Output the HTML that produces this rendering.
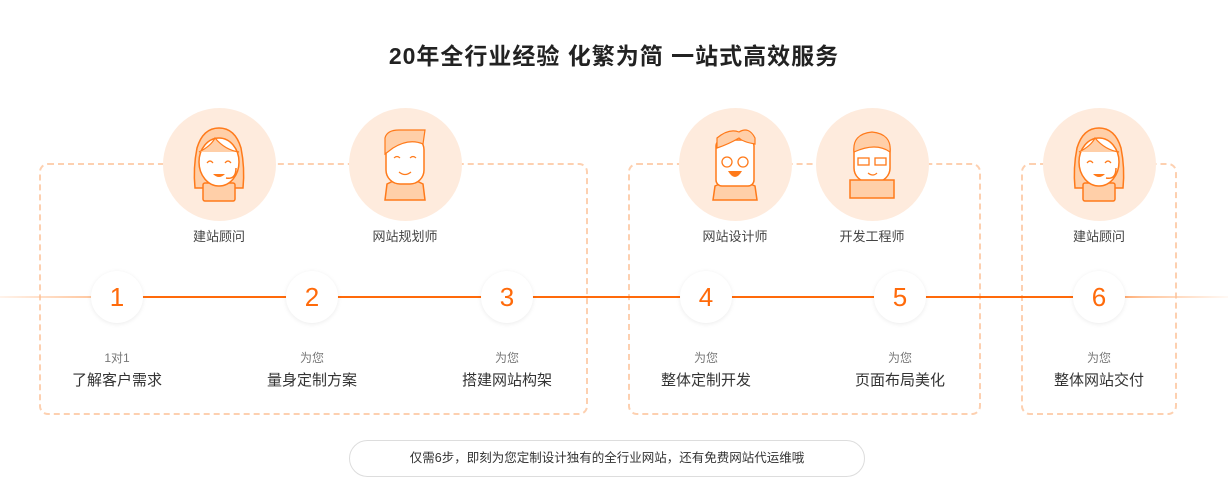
<!DOCTYPE html>
<html><head><meta charset="utf-8"><style>
*{margin:0;padding:0;box-sizing:border-box}
body{width:1228px;height:497px;background:#fff;position:relative;overflow:hidden;font-family:"Liberation Sans","Noto Sans CJK SC",sans-serif;color:#333}
.a{position:absolute}
.title{left:0;width:1228px;top:37px;text-align:center;font-size:23px;font-weight:bold;color:#222;letter-spacing:1px}
.box{border:2px dashed #fdd0b0;border-radius:9px}
.av{width:113px;height:113px;border-radius:50%;background:#feebdd}
.role{font-size:13px;color:#444;width:140px;text-align:center}
.num{width:52px;height:52px;border-radius:50%;background:#fff;box-shadow:0 1px 5px rgba(0,0,0,.08);color:#ff6a0a;font-size:26px;font-weight:300;text-align:center;line-height:52px}
.sub{font-size:12px;color:#777;width:160px;text-align:center}
.main{font-size:15px;color:#333;width:160px;text-align:center}
.pill{left:349px;top:440px;width:516px;height:37px;border:1px solid #ddd;border-radius:19px;text-align:center;line-height:35px;font-size:12.5px;color:#333}
</style></head><body>
<div class="a title">20年全行业经验 化繁为简 一站式高效服务</div>

<div class="a box" style="left:39px;top:163px;width:549px;height:252px"></div>
<div class="a box" style="left:628px;top:163px;width:353px;height:252px"></div>
<div class="a box" style="left:1021px;top:163px;width:156px;height:252px"></div>

<div class="a" style="left:0;top:296px;width:1228px;height:2px;background:linear-gradient(90deg,rgba(255,140,60,0.1) 0%,#ffc49a 8%,#ff6a0a 12%,#ff6a0a 88%,#ffc49a 93%,rgba(255,140,60,0.05) 100%)"></div>

<svg width="0" height="0" style="position:absolute"><defs>
<g id="girl">
<path d="M32 80 Q30 60 34 40 Q40 20 56 20 Q72 20 78 40 Q82 60 80 80 Z" fill="#ffcfa8" stroke="#ff7a1a" stroke-width="1.5"/>
<rect x="40" y="75" width="32" height="18" rx="2" fill="#ffcfa8" stroke="#ff7a1a" stroke-width="1.5"/>
<ellipse cx="56" cy="54" rx="20" ry="24" fill="#fff" stroke="#ff7a1a" stroke-width="1.5"/>
<path d="M36 44 Q48 38 52 30 Q62 42 76 44" fill="#ffcfa8" stroke="#ff7a1a" stroke-width="1.2"/>
<path d="M44 55 q3-4 6 0 M62 55 q3-4 6 0" fill="none" stroke="#ff7a1a" stroke-width="1.2"/>
<path d="M50 66 q6 6 12 0 z" fill="#ff7a1a"/>
<path d="M73 60 q0 12 -10 10" fill="none" stroke="#ff7a1a" stroke-width="1.5"/>
</g>
<g id="boy">
<path d="M38 76 Q56 66 74 76 L76 92 L36 92 Z" fill="#ffcfa8" stroke="#ff7a1a" stroke-width="1.5"/>
<rect x="37" y="28" width="38" height="48" rx="14" fill="#fff" stroke="#ff7a1a" stroke-width="1.5"/>
<path d="M36 46 L36 30 Q38 22 50 22 L76 22 L74 36 Q60 30 44 40 Z" fill="#ffcfa8" stroke="#ff7a1a" stroke-width="1.2"/>
<path d="M45 50 q3-3 6 0 M61 50 q3-3 6 0 M50 64 q6 5 12 0" fill="none" stroke="#ff7a1a" stroke-width="1.2"/>
</g>
<g id="des">
<path d="M36 78 Q56 68 76 78 L78 92 L34 92 Z" fill="#ffcfa8" stroke="#ff7a1a" stroke-width="1.5"/>
<rect x="37" y="32" width="38" height="46" rx="6" fill="#fff" stroke="#ff7a1a" stroke-width="1.5"/>
<path d="M38 40 L38 30 Q50 20 60 24 Q70 18 76 30 L76 36 Q64 34 60 30 Q50 36 38 40Z" fill="#ffcfa8" stroke="#ff7a1a" stroke-width="1.2"/>
<circle cx="48" cy="54" r="5" fill="none" stroke="#ff7a1a" stroke-width="1.3"/><circle cx="64" cy="54" r="5" fill="none" stroke="#ff7a1a" stroke-width="1.3"/>
<path d="M49 63 q7 12 14 0 z" fill="#ff7a1a"/>
</g>
<g id="dev">
<rect x="38" y="28" width="36" height="46" rx="14" fill="#fff" stroke="#ff7a1a" stroke-width="1.5"/>
<path d="M38 44 Q36 26 56 24 Q76 26 74 44 Q60 34 38 44Z" fill="#ffcfa8" stroke="#ff7a1a" stroke-width="1.2"/>
<rect x="42" y="50" width="11" height="7" fill="none" stroke="#ff7a1a" stroke-width="1.3"/><rect x="59" y="50" width="11" height="7" fill="none" stroke="#ff7a1a" stroke-width="1.3"/>
<path d="M52 65 q5 4 9 0" fill="none" stroke="#ff7a1a" stroke-width="1.2"/>
<rect x="34" y="72" width="44" height="18" fill="#ffcfa8" stroke="#ff7a1a" stroke-width="1.5"/>
</g>
</defs></svg>

<div class="a av" style="left:163px;top:108px"><svg width="113" height="113"><use href="#girl"/></svg></div>
<div class="a av" style="left:349px;top:108px"><svg width="113" height="113"><use href="#boy"/></svg></div>
<div class="a av" style="left:679px;top:108px"><svg width="113" height="113"><use href="#des"/></svg></div>
<div class="a av" style="left:816px;top:108px"><svg width="113" height="113"><use href="#dev"/></svg></div>
<div class="a av" style="left:1043px;top:108px"><svg width="113" height="113"><use href="#girl"/></svg></div>

<div class="a role" style="left:149px;top:226px">建站顾问</div>
<div class="a role" style="left:335px;top:226px">网站规划师</div>
<div class="a role" style="left:665px;top:226px">网站设计师</div>
<div class="a role" style="left:802px;top:226px">开发工程师</div>
<div class="a role" style="left:1029px;top:226px">建站顾问</div>

<div class="a num" style="left:91px;top:271px">1</div>
<div class="a num" style="left:286px;top:271px">2</div>
<div class="a num" style="left:481px;top:271px">3</div>
<div class="a num" style="left:680px;top:271px">4</div>
<div class="a num" style="left:874px;top:271px">5</div>
<div class="a num" style="left:1073px;top:271px">6</div>

<div class="a sub" style="left:37px;top:349px">1对1</div>
<div class="a main" style="left:37px;top:369px">了解客户需求</div>
<div class="a sub" style="left:232px;top:349px">为您</div>
<div class="a main" style="left:232px;top:369px">量身定制方案</div>
<div class="a sub" style="left:427px;top:349px">为您</div>
<div class="a main" style="left:427px;top:369px">搭建网站构架</div>
<div class="a sub" style="left:626px;top:349px">为您</div>
<div class="a main" style="left:626px;top:369px">整体定制开发</div>
<div class="a sub" style="left:820px;top:349px">为您</div>
<div class="a main" style="left:820px;top:369px">页面布局美化</div>
<div class="a sub" style="left:1019px;top:349px">为您</div>
<div class="a main" style="left:1019px;top:369px">整体网站交付</div>

<div class="a pill">仅需6步，即刻为您定制设计独有的全行业网站，还有免费网站代运维哦</div>
</body></html>
